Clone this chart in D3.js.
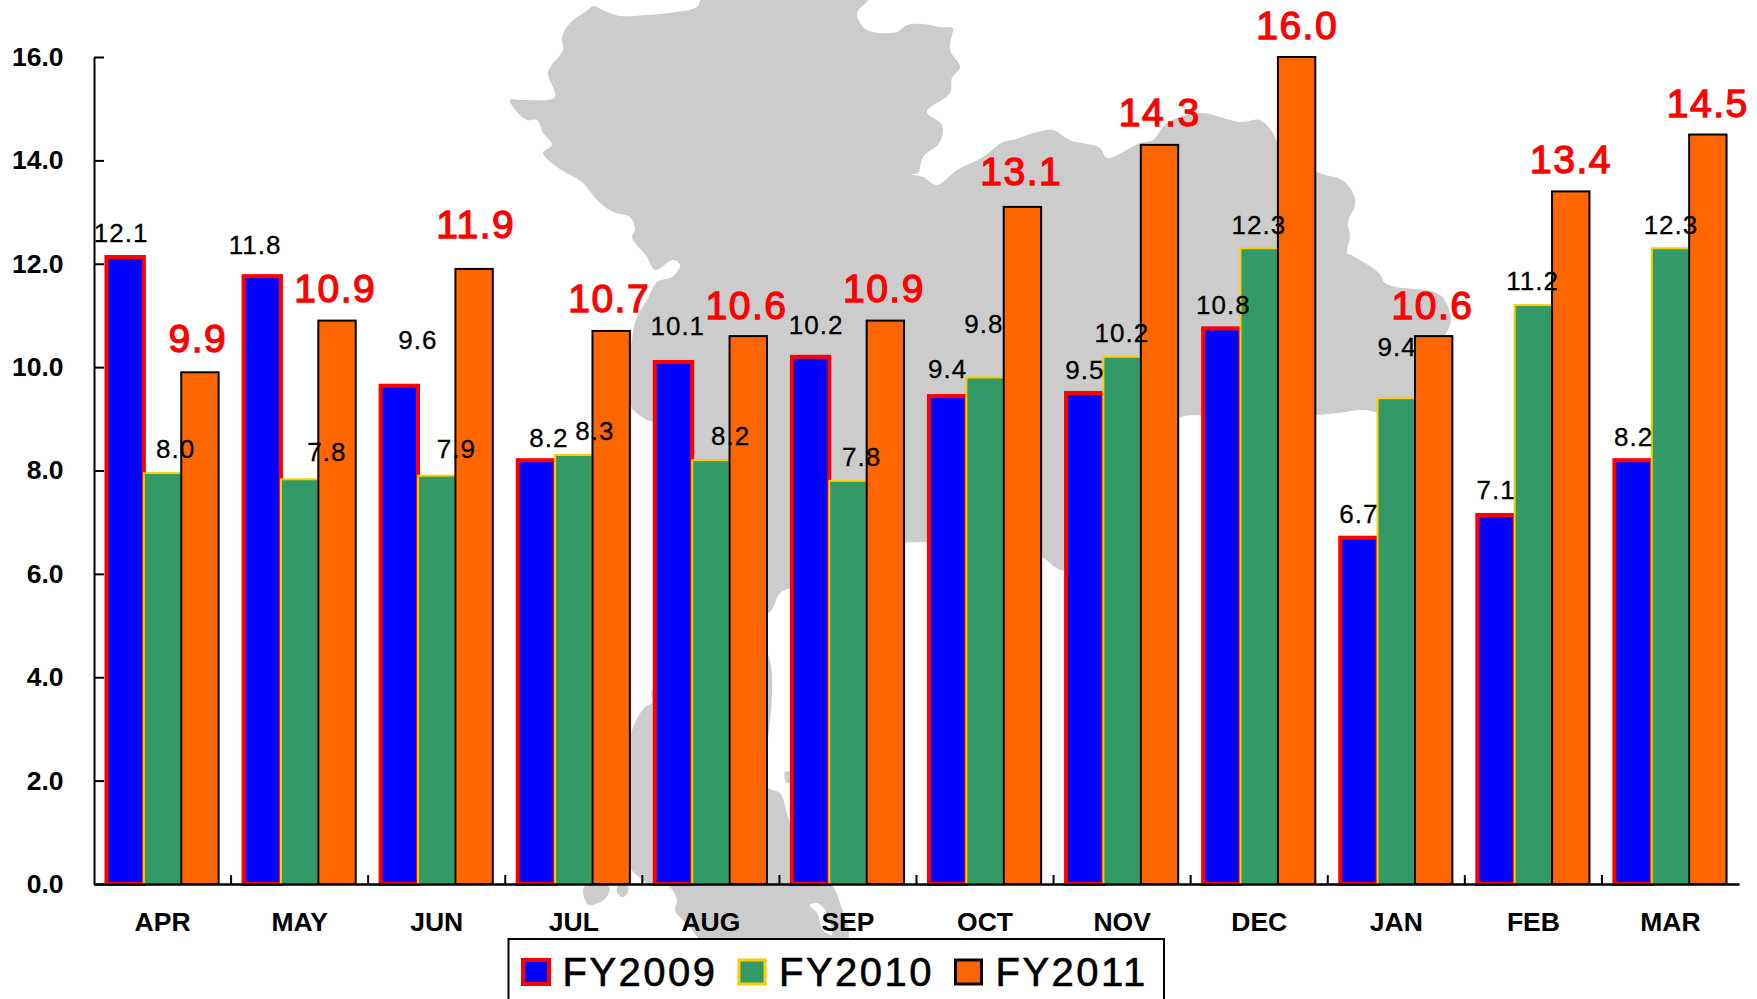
<!DOCTYPE html>
<html><head><meta charset="utf-8">
<script src="https://d3js.org/d3.v7.min.js"></script>
<style>html,body{margin:0;padding:0;background:#fff;overflow:hidden}svg{display:block}text{font-family:"Liberation Sans",Arial,sans-serif}</style>
</head><body><svg id="c" width="1757" height="999"><defs><filter id="soft" x="-5%" y="-5%" width="110%" height="110%"><feGaussianBlur stdDeviation="0.7"/></filter></defs></svg>
<script>
const months=["APR","MAY","JUN","JUL","AUG","SEP","OCT","NOV","DEC","JAN","FEB","MAR"];
const seriesNames=["FY2009","FY2010","FY2011"];
const fy2009=[12.13,11.76,9.64,8.2,10.1,10.2,9.44,9.5,10.75,6.7,7.14,8.2];
const fy2010=[7.95,7.83,7.9,8.3,8.2,7.8,9.8,10.2,12.3,9.4,11.2,12.3];
const fy2011=[9.9,10.9,11.9,10.7,10.6,10.9,13.1,14.3,16.0,10.6,13.4,14.5];
const yTicks=[0,2,4,6,8,10,12,14,16];
// hand-moved data labels: nudges from bar centre / bar top
const nudgeX=[[-4,-7.2,18.6,12.5,4.3,5.6,-0.1,0.2,1.6,-0.1,0.2,0.5],[13,27.3,19.6,21,19.8,13.6,-1.1,-0.3,-0.4,0.9,-0.8,0.5],[-2,-1.7,1.6,-2,-1.7,-1.4,-1.1,0.2,0.6,-1.1,0.2,-0.1]];
const nudgeY=[[-24.6,-31,-46,-22,-36,-32,-27,-23,-24,-24,-25,-23],[-24.5,-28,-26.6,-24,-24,-24,-54,-24,-24,-51,-24,-24],[-34,-32.6,-45,-33,-31,-32.6,-36,-33,-32,-31,-32,-31.5]];
const fills=["#0000FF","#339966","#FF6600"], strokes=["#FF0000","#FFCC00","#000000"], strokeW=[4,2,2];
// backdrop map outline, traced
const mapMain=[[700,-5],[700,0],[697,7],[677,12],[647,15],[620,16],[607,12],[593,6],[588,10],[570,23],[562,37],[563,50],[548,72],[555,97],[523,100],[510,100],[518,113],[527,120],[537,120],[543,133],[552,145],[543,153],[557,167],[583,183],[597,200],[613,212],[630,217],[635,230],[632,237],[647,257],[655,270],[673,260],[680,265],[672,277],[657,282],[647,300],[637,317],[633,333],[629,403],[647,420],[653,422],[720,560],[768,613],[780,593],[790,588],[860,560],[905,543],[927,542],[1000,530],[1042,557],[1065,570],[1110,480],[1179,418],[1203,415],[1317,415],[1337,413],[1363,410],[1379,412],[1425,400],[1440,345],[1451,320],[1440,295],[1396,287],[1385,283],[1379,273],[1351,255],[1347,253],[1350,237],[1348,222],[1355,205],[1353,193],[1342,180],[1317,172],[1278,143],[1273,133],[1260,120],[1240,122],[1200,113],[1167,123],[1153,140],[1140,143],[1107,158],[1100,148],[1070,140],[1053,130],[1037,132],[1013,140],[1003,142],[983,157],[957,170],[937,185],[923,177],[911,174],[918,173],[923,157],[940,142],[942,125],[927,112],[950,93],[952,78],[960,67],[950,50],[952,35],[953,28],[940,27],[923,24],[907,25],[897,32],[873,32],[863,27],[857,13],[868,0],[868,-5]];
const mapSouth=[[652,690],[652,703],[645,707],[630,737],[630,867],[643,880],[650,886],[667,885],[677,900],[675,910],[690,927],[703,941],[847,941],[840,903],[832,885],[800,850],[788,817],[780,793],[768,788],[765,780],[765,650],[700,640]];
const mapIsle1=[[584,887],[584,897],[589,905],[606,898],[609,887]];
const mapIsle2=[[618,886],[617,893],[623,897],[628,892],[628,886]];
const mapIsle3=[[785,772],[790,772],[790,783],[786,782]];
const notch=[[810,905],[817,913],[823,930],[832,935],[825,910],[817,903]];

const svg=d3.select("#c");
const x=d3.scaleBand().domain(months).range([94,1739]);
const inner=d3.scaleBand().domain(seriesNames).range([0,x.bandwidth()]).paddingInner(0).paddingOuter(1/3);
const y=d3.scaleLinear().domain([0,16]).range([884,57]);
const curve=d3.line().curve(d3.curveCatmullRomClosed.alpha(0.5));

const mapG=svg.append("g").attr("filter","url(#soft)");
mapG.selectAll("path").data([mapMain,mapSouth,mapIsle1,mapIsle2,mapIsle3]).join("path")
  .attr("d",curve).attr("fill","#CCCCCC");
mapG.append("path").attr("d",curve(notch)).attr("fill","#fff");

const yAxis=d3.axisLeft(y).tickValues(yTicks).tickFormat(d3.format(".1f")).tickSizeInner(-10).tickSizeOuter(0).tickPadding(30.5);
const gy=svg.append("g").attr("transform","translate(94,0)").call(yAxis);
gy.selectAll("text").attr("font-size",26.5).attr("font-weight","bold").attr("fill","#000").style("font-family",'"Liberation Sans"');
gy.selectAll("line,path").attr("stroke","#000").attr("stroke-width",2);

const all=[fy2009,fy2010,fy2011];
all.forEach((vals,s)=>{
  svg.append("g").selectAll("rect").data(vals).join("rect")
    .attr("x",(d,i)=>x(months[i])+inner(seriesNames[s]))
    .attr("width",inner.bandwidth())
    .attr("y",d=>y(d)).attr("height",d=>y(0)-y(d))
    .attr("fill",fills[s]).attr("stroke",strokes[s]).attr("stroke-width",strokeW[s]);
});

const xAxis=d3.axisBottom(x).tickSize(0).tickPadding(28.5);
const gx=svg.append("g").attr("transform","translate(0,884)").call(xAxis);
gx.selectAll("text").attr("font-size",26.5).attr("font-weight","bold").attr("fill","#000").style("font-family",'"Liberation Sans"');
gx.selectAll("path").attr("stroke","#000").attr("stroke-width",2.5);
svg.append("g").selectAll("line").data(months.slice(1)).join("line")
  .attr("x1",d=>x(d)).attr("x2",d=>x(d)).attr("y1",y(0)).attr("y2",y(0)-9).attr("stroke","#000").attr("stroke-width",2);

all.forEach((vals,s)=>{
  const fs=s===2?39:26;
  svg.append("g").selectAll("text").data(vals).join("text")
    .attr("x",(d,i)=>x(months[i])+inner(seriesNames[s])+inner.bandwidth()/2+nudgeX[s][i])
    .attr("y",(d,i)=>y(d)+nudgeY[s][i]+fs*0.358)
    .attr("text-anchor","middle").attr("font-size",fs)
    .attr("letter-spacing",s===2?1.5:1)
    .attr("fill",s===2?"#FF0000":"#000")
    .attr("stroke",s===2?"#FF0000":"#000").attr("stroke-width",s===2?1.3:0.3)
    .text(d=>d.toFixed(1));
});

// legend
const lg=svg.append("g");
lg.append("rect").attr("x",508.5).attr("y",939).attr("width",655.5).attr("height",80).attr("fill","#fff").attr("stroke","#000").attr("stroke-width",2);
const legendX=d3.scalePoint().domain(seriesNames).range([522,955]);
const item=lg.selectAll("g").data(seriesNames).join("g").attr("transform",d=>`translate(${legendX(d)},0)`);
item.append("rect").attr("x",(d,i)=>i===0?1:0.5).attr("y",960).attr("width",26).attr("height",24)
  .attr("fill",(d,i)=>fills[i]).attr("stroke",(d,i)=>strokes[i]).attr("stroke-width",(d,i)=>i===0?4:3);
item.append("text").attr("x",40.5).attr("y",986).attr("font-size",40).attr("letter-spacing",2.5).attr("fill","#000").attr("stroke","#000").attr("stroke-width",0.6).text(d=>d);
</script></body></html>
